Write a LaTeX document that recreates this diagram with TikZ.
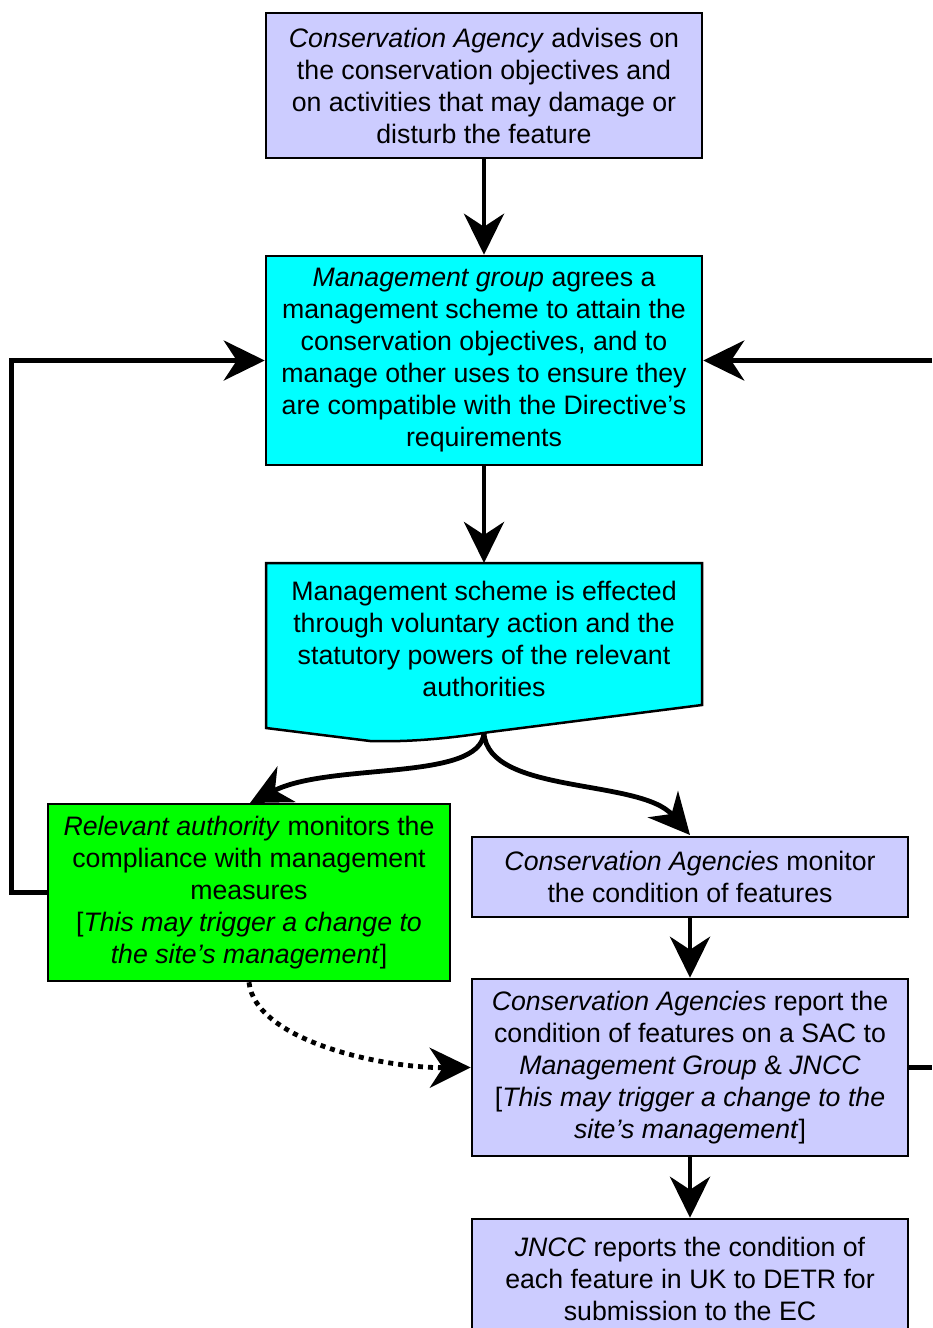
\documentclass[tikz,border=0pt]{standalone}
\usepackage{fontspec}
\setmainfont{Liberation Sans}
\usetikzlibrary{arrows.meta,positioning}
\definecolor{lavender}{HTML}{CCCCFF}
\definecolor{aqua}{HTML}{00FFFF}
\definecolor{lime}{HTML}{00FF00}
\begin{document}
\begin{tikzpicture}
	[
		x=1pt, y=-1pt,
		font=\fontsize{26.7}{32}\selectfont,
		line/.style={draw, line width=4.8pt},
		arrow/.style={line, -{Stealth[length=41pt, width=40pt, inset=13pt]}}
	]
	\tikzstyle{Box} = [rectangle, minimum width=436pt, align=center, draw=black, line width=2.5pt, inner sep=0pt]
	\useasboundingbox (0,0) rectangle (932,1328);
	% boxes
	\node [Box, fill=lavender, minimum height=145pt] (agency) at (484,85.5)
		{\textit{Conservation Agency} advises on\\the conservation objectives and\\on activities that may damage or\\disturb the feature};
	\node [Box, fill=aqua, minimum height=209pt] (group) at (484,360.5)
		{\textit{Management group} agrees a\\management scheme to attain the\\conservation objectives, and to\\manage other uses to ensure they\\are compatible with the Directive's\\requirements};
	\path [draw, line width=2.5pt, fill=aqua] (266,563) -- (702,563) -- (702,705) -- (490,732)
		.. controls (440,740) and (400,742) .. (370,741) -- (266,728) -- cycle;
	\coordinate (scheme tip) at (484,733);
	\node [align=center] (scheme) at (484,639)
		{Management scheme is effected\\through voluntary action and the\\statutory powers of the relevant\\authorities};
	\node [Box, fill=lime, minimum width=402pt, minimum height=177pt] (authority) at (249,892.5)
		{\textit{Relevant authority} monitors the\\compliance with management\\measures\\{[}\textit{This may trigger a change to}\\\textit{the site's management}{]}};
	\node [Box, fill=lavender, minimum height=80pt] (monitor) at (690,877)
		{\textit{Conservation Agencies} monitor\\the condition of features};
	\node [Box, fill=lavender, minimum height=177pt] (report) at (690,1067.5)
		{\textit{Conservation Agencies} report the\\condition of features on a SAC to\\\textit{Management Group} \& \textit{JNCC}\\{[}\textit{This may trigger a change to the}\\\textit{site's management}{]}};
	\node [Box, fill=lavender, minimum height=120pt] (jncc) at (690,1279)
		{\textit{JNCC} reports the condition of\\each feature in UK to DETR for\\submission to the EC};
	% connectors
	\coordinate (right in) at (932,360.5);
	\coordinate (right out) at (932,1067.5);
	\draw [arrow] (agency) -- (group);
	\draw [arrow] (group) -- (484,563);
	\draw [arrow] (authority.west) -- ++(-35,0) |- (group.west);
	\draw [arrow] (right in) -- (group.east);
	\draw [arrow] (scheme tip) .. controls (480,782) and (330,762) .. (250,803);
	\draw [arrow] (scheme tip) .. controls (488,795) and (640,778) .. (690,835);
	\draw [arrow] (monitor) -- (report);
	\draw [arrow] (report) -- (jncc);
	\draw [arrow, dash pattern=on 5pt off 5pt] (authority.south) .. controls (255,1040) and (380,1068) .. (report.west);
	\draw [line] (report.east) -- (right out);
\end{tikzpicture}
\end{document}
